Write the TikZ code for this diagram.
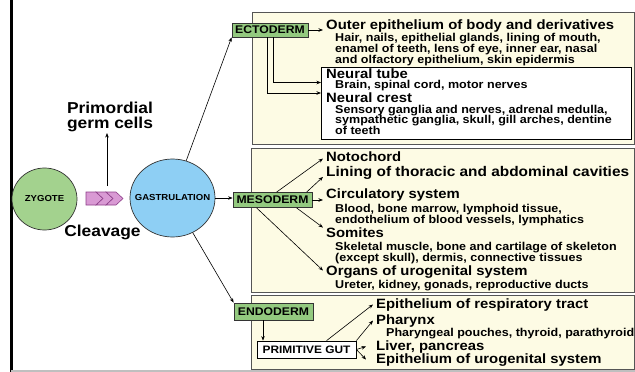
\documentclass[tikz,border=0pt]{standalone}
\usepackage{fontspec}
\setmainfont[FakeStretch=1.1]{Liberation Sans}
\usetikzlibrary{arrows.meta,shapes.geometric,calc}
\definecolor{germgreen}{HTML}{93C97F}
\definecolor{zyggreen}{HTML}{A3D28E}
\definecolor{gastblue}{HTML}{8ECFF4}
\definecolor{pinkarr}{HTML}{D99AD4}
\definecolor{pinkedge}{HTML}{8E3F8A}
\definecolor{cream}{HTML}{FDFBE4}
\definecolor{panelline}{HTML}{555555}
\newcommand\BigF{\fontsize{15.8}{16}\selectfont\bfseries}
\newcommand\TitF{\fontsize{13.5}{14}\selectfont\bfseries}
\newcommand\SubF{\fontsize{11.4}{12}\selectfont\bfseries}
\newcommand\BoxF{\fontsize{11.1}{12}\selectfont\bfseries}
\newcommand\EllF{\fontsize{8.7}{9}\selectfont\bfseries}
\begin{document}
\begin{tikzpicture}[x=1pt,y=-1pt,
 arr/.style={-{Stealth[length=4.5pt,width=3.5pt]}, line width=0.6pt},
 layer/.style={draw=black!80, line width=0.8pt, fill=germgreen, inner sep=0pt, font=\BoxF},
 panel/.style={draw=panelline, line width=1pt, fill=cream},
 ttl/.style={anchor=base west, inner xsep=3pt, inner ysep=0pt, font=\TitF},
 sub/.style={anchor=base west, inner xsep=3pt, inner ysep=0pt, font=\SubF},
 big/.style={anchor=base, inner sep=1.5pt, font=\BigF},
 chev/.style={fill=pinkarr, draw=pinkedge, line width=0.6pt, line join=miter},
]
\useasboundingbox (0,0) rectangle (635,372);

% panels
\path[panel] (252,12) rectangle (634,144);
\path[panel] (251,148) rectangle (634,292);
\path[panel] (251,295) rectangle (634,369);

% frame lines
\draw[line width=3pt] (11,0) -- (11,372);
\draw[black!25, line width=1.5pt] (11,371) -- (635,371);

% left part
\node[ellipse, draw=black!80, line width=0.7pt, fill=zyggreen, minimum width=65pt, minimum height=62pt, inner sep=0pt, font=\EllF] (zyg) at (44.5,199) {\makebox[0pt]{ZYGOTE}};
\node[ellipse, draw=black!80, line width=0.7pt, fill=gastblue, minimum width=85pt, minimum height=78pt, inner sep=0pt, font=\EllF] (gast) at (172.5,198) {\makebox[0pt]{GASTRULATION}};

\path[chev] (86,192) -- (96,192) -- (103,198.5) -- (96,205) -- (86,205) -- cycle;
\path[chev] (96,192) -- (106,192) -- (113,198.5) -- (106,205) -- (96,205) -- (103,198.5) -- cycle;
\path[chev] (106,192) -- (116,192) -- (123,198.5) -- (116,205) -- (106,205) -- (113,198.5) -- cycle;

\node[big] (prim1) at (110,113) {Primordial};
\node[big] (prim2) at (110,128) {germ cells};
\node[big] (cleav) at (102.5,236) {Cleavage};
\coordinate (pgc0) at (107,186);
\draw[arr] (pgc0) -- (pgc0 |- prim2.south);

% germ layers
\node[layer, minimum width=76pt, minimum height=14pt] (ecto) at (270,30) {ECTODERM};
\node[layer, minimum width=79pt, minimum height=15pt] (meso) at (272.5,200) {MESODERM};
\node[layer, minimum width=79pt, minimum height=17pt] (endo) at (273.5,311.5) {ENDODERM};

\draw[arr] (gast) -- (ecto.south west);
\draw[arr] (gast.east) -- (gast.east -| meso.west);
\draw[arr] (gast) -- (endo.north west);

% ectoderm
\node[ttl] (outer) at (323,29.5) {Outer epithelium of body and derivatives};
\node[sub] (e1) at (332,41) {Hair, nails, epithelial glands, lining of mouth,};
\node[sub] (e2) at (332,52) {enamel of teeth, lens of eye, inner ear, nasal};
\node[sub] (e3) at (332,63) {and olfactory epithelium, skin epidermis};
\node[draw=black, fill=white, line width=0.8pt, minimum width=310pt, minimum height=72pt, inner sep=0pt, anchor=north west] (nbox) at (321,67) {};
\node[ttl] (ntube) at (323,78) {Neural tube};
\node[sub] (n1) at (332,88.5) {Brain, spinal cord, motor nerves};
\node[ttl] (ncrest) at (323,102) {Neural crest};
\node[sub] (n2) at (332,113) {Sensory ganglia and nerves, adrenal medulla,};
\node[sub] (n3) at (332,123.5) {sympathetic ganglia, skull, gill arches, dentine};
\node[sub] (n4) at (332,134) {of teeth};

\draw[arr] (ecto.east) -- (ecto.east -| outer.west);
\coordinate (v1) at (273,0);
\coordinate (v2) at (267,0);
\coordinate (nt) at (321,82.5);
\coordinate (nc) at (321,93);
\draw[arr] (ecto.south -| v1) |- (nt);
\draw[arr] (ecto.south -| v2) |- (nc);

% mesoderm
\node[ttl] (noto) at (323,161) {Notochord};
\node[ttl, font=\fontsize{14}{14}\selectfont\bfseries] (lining) at (323,176.5) {Lining of thoracic and abdominal cavities};
\node[ttl] (circ) at (323,198.5) {Circulatory system};
\node[sub] (m1) at (332,212.5) {Blood, bone marrow, lymphoid tissue,};
\node[sub] (m2) at (332,223.5) {endothelium of blood vessels, lymphatics};
\node[ttl] (somites) at (323,237) {Somites};
\node[sub] (m3) at (332,250.5) {Skeletal muscle, bone and cartilage of skeleton};
\node[sub] (m4) at (332,261.5) {(except skull), dermis, connective tissues};
\node[ttl] (organs) at (323,275) {Organs of urogenital system};
\node[sub] (m5) at (332,288) {Ureter, kidney, gonads, reproductive ducts};

\draw[arr] ([xshift=44pt]meso.north west) -- ([yshift=-2.4pt]noto.west);
\draw[arr] ([xshift=74pt]meso.north west) -- ([yshift=-4pt]lining.west);
\draw[arr] (meso.east) -- (meso.east -| circ.west);
\draw[arr] ([xshift=64pt]meso.south west) -- ([yshift=4.6pt]somites.west);
\draw[arr] ([xshift=24pt]meso.south west) -- ([yshift=1pt]organs.west);

% endoderm
\node[draw=black, fill=white, line width=0.8pt, minimum width=99pt, minimum height=17pt, inner sep=0pt, font=\fontsize{10.8}{11}\selectfont\bfseries] (pg) at (306.5,349.5) {PRIMITIVE GUT};
\node[ttl] (epresp) at (373,308) {Epithelium of respiratory tract};
\node[ttl] (phar) at (373,324) {Pharynx};
\node[sub] (p1) at (383,336.5) {Pharyngeal pouches, thyroid, parathyroid};
\node[ttl] (liver) at (373,350) {Liver, pancreas};
\node[ttl] (epuro) at (373,363) {Epithelium of urogenital system};

\coordinate (v3) at (263,0);
\draw[arr] (endo.south -| v3) -- (pg.north -| v3);
\draw[arr] ([xshift=70pt]pg.north west) -- (epresp.west);
\draw[arr] (pg.north east) -- (phar.west);
\draw[arr] (pg.east) -- ([xshift=-7pt]liver.west);
\draw[arr] (pg.east) -- ([xshift=-7pt]epuro.west);
\end{tikzpicture}
\end{document}
